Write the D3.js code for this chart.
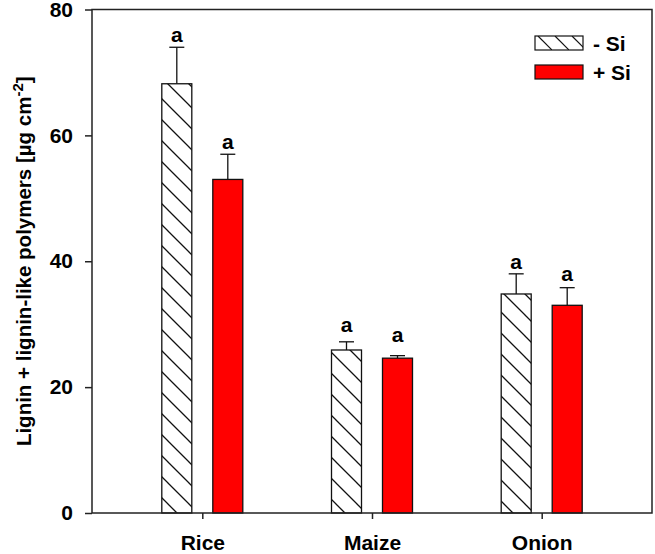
<!DOCTYPE html>
<html>
<head>
<meta charset="utf-8">
<script src="https://cdn.jsdelivr.net/npm/d3@7"></script>
<style>
  body { margin: 0; background: #fff; }
  svg { display: block; }
  text { font-family: "Liberation Sans", Arial, sans-serif; font-weight: bold; fill: #000; }
</style>
</head>
<body>
<div id="chart"></div>
<script>
// data
var crops = ["Rice", "Maize", "Onion"];
var series = ["- Si", "+ Si"];
var minusSi = [68.2, 25.9, 34.8];
var minusSiErr = [5.8, 1.3, 3.2];
var plusSi = [53.0, 24.6, 33.0];
var plusSiErr = [4.0, 0.4, 2.8];
var letters = [["a", "a", "a"], ["a", "a", "a"]];
// value at which each significance letter sits
var letterAt = [[74.8, 28.8, 38.8], [57.9, 27.2, 36.9]];
var yTicks = [0, 20, 40, 60, 80];

var width = 655, height = 554;
var plotLeft = 92, plotRight = 652, plotTop = 9.5, plotBottom = 513;

var svg = d3.select("#chart").append("svg")
  .attr("width", width)
  .attr("height", height);

var defs = svg.append("defs");
var pat = defs.append("pattern")
  .attr("id", "hatch")
  .attr("patternUnits", "userSpaceOnUse")
  .attr("width", 21)
  .attr("height", 21);
pat.append("rect").attr("width", 21).attr("height", 21).attr("fill", "#fff");
pat.append("path")
  .attr("d", "M-5,-5L26,26M-5,16L5,26M16,-5L26,5")
  .attr("stroke", "#111")
  .attr("stroke-width", 1.3);

var patL = defs.append("pattern")
  .attr("id", "hatchL")
  .attr("patternUnits", "userSpaceOnUse")
  .attr("x", 535).attr("y", 36)
  .attr("width", 17).attr("height", 14);
patL.append("rect").attr("width", 17).attr("height", 14).attr("fill", "#fff");
patL.append("path")
  .attr("d", "M3,0L17,14")
  .attr("stroke", "#111").attr("stroke-width", 1.2);

var x = d3.scalePoint()
  .domain(crops)
  .range([plotLeft, plotRight])
  .padding(0.65);

var y = d3.scaleLinear()
  .domain([0, 80])
  .range([plotBottom, plotTop]);

var barW = 30, offset = 25.5;

var groups = [
  { name: series[0], values: minusSi, errs: minusSiErr, dx: -offset, fill: "url(#hatch)", legendFill: "url(#hatchL)", letters: letters[0], letterAt: letterAt[0] },
  { name: series[1], values: plusSi, errs: plusSiErr, dx: offset, fill: "#ff0000", legendFill: "#ff0000", letters: letters[1], letterAt: letterAt[1] }
];

// bars, error bars and letters
groups.forEach(function(g) {
  var gg = svg.append("g");
  crops.forEach(function(c, i) {
    var cx = x(c) + g.dx;
    var v = g.values[i], e = g.errs[i];
    gg.append("line")
      .attr("x1", cx).attr("x2", cx)
      .attr("y1", y(v)).attr("y2", y(v + e))
      .attr("stroke", "#111").attr("stroke-width", 1.3);
    gg.append("line")
      .attr("x1", cx - 7.5).attr("x2", cx + 7.5)
      .attr("y1", y(v + e)).attr("y2", y(v + e))
      .attr("stroke", "#111").attr("stroke-width", 1.3);
    gg.append("rect")
      .attr("x", cx - barW / 2)
      .attr("y", y(v))
      .attr("width", barW)
      .attr("height", y(0) - y(v))
      .attr("fill", g.fill)
      .attr("stroke", "#111")
      .attr("stroke-width", 1.3);
    gg.append("text")
      .attr("x", cx)
      .attr("y", y(g.letterAt[i]))
      .attr("text-anchor", "middle")
      .style("font-size", "21px")
      .text(g.letters[i]);
  });
});

// frame
svg.append("rect")
  .attr("x", plotLeft).attr("y", plotTop)
  .attr("width", plotRight - plotLeft).attr("height", plotBottom - plotTop)
  .attr("fill", "none")
  .attr("stroke", "#222")
  .attr("stroke-width", 1.5);

// y axis
var yAxis = svg.append("g")
  .attr("transform", "translate(" + plotLeft + ",0)")
  .call(d3.axisLeft(y).tickValues(yTicks).tickSize(7).tickPadding(12));
yAxis.select(".domain").remove();
yAxis.selectAll("line").attr("stroke", "#222").attr("stroke-width", 1.5);
yAxis.selectAll("text").style("font-size", "21px").style("font-family", "Liberation Sans, Arial, sans-serif").style("font-weight", "bold").attr("fill", "#000");

// x axis
var xAxis = svg.append("g")
  .attr("transform", "translate(0," + plotBottom + ")")
  .call(d3.axisBottom(x).tickSize(6).tickPadding(16));
xAxis.select(".domain").remove();
xAxis.selectAll("line").attr("stroke", "#222").attr("stroke-width", 1.5);
xAxis.selectAll("text").style("font-size", "21px").style("font-family", "Liberation Sans, Arial, sans-serif").style("font-weight", "bold").attr("fill", "#000");

// y title
var title = svg.append("text")
  .attr("transform", "translate(31," + (plotTop + plotBottom) / 2 + ") rotate(-90)")
  .attr("text-anchor", "middle")
  .style("font-size", "20.5px");
title.append("tspan").text("Lignin + lignin-like polymers [µg cm");
title.append("tspan").attr("dy", -8).style("font-size", "15px").text("-2");
title.append("tspan").attr("dy", 8).text("]");

// legend
var legend = svg.append("g");
groups.forEach(function(g, i) {
  var ly = 36 + i * 29;
  legend.append("rect")
    .attr("x", 535).attr("y", ly)
    .attr("width", 48).attr("height", 14)
    .attr("fill", g.legendFill)
    .attr("stroke", "#111").attr("stroke-width", 1.2);
  legend.append("text")
    .attr("x", 593).attr("y", ly + 14.5)
    .style("font-size", "21px")
    .text(g.name);
});
</script>
</body>
</html>
